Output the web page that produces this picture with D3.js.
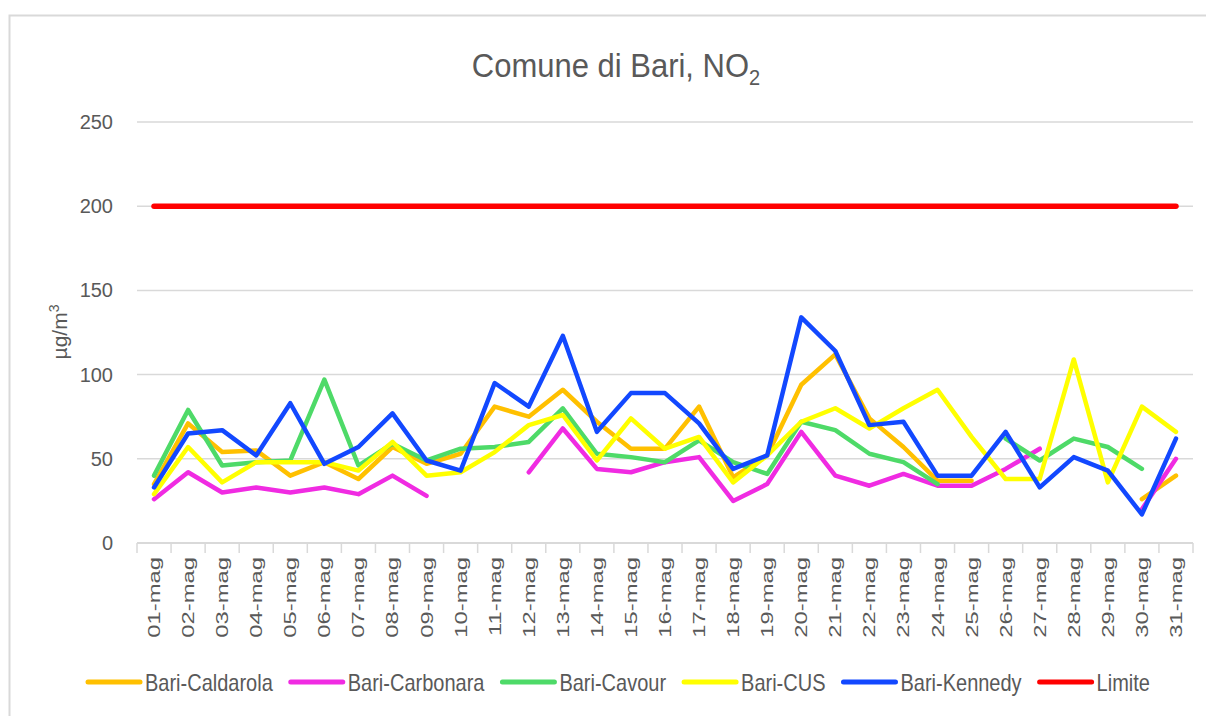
<!DOCTYPE html>
<html>
<head>
<meta charset="utf-8">
<script src="https://cdn.jsdelivr.net/npm/d3@7"></script>
<style>
  body { margin: 0; background: #fff; }
  text { font-family: "Liberation Sans", Arial, sans-serif; fill: #595959; }
</style>
</head>
<body>
<div id="chart"></div>
<script>
// DATA
const days = ["01-mag","02-mag","03-mag","04-mag","05-mag","06-mag","07-mag","08-mag","09-mag","10-mag",
  "11-mag","12-mag","13-mag","14-mag","15-mag","16-mag","17-mag","18-mag","19-mag","20-mag",
  "21-mag","22-mag","23-mag","24-mag","25-mag","26-mag","27-mag","28-mag","29-mag","30-mag","31-mag"]

const caldarola = [35,71,54,55,40,48,38,57,47,53,81,75,91,72,56,56,81,39,52,94,112,74,57,37,37,null,null,null,null,26,40]
const carbonara = [26,42,30,33,30,33,29,40,28,null,null,42,68,44,42,48,51,25,35,66,40,34,41,34,34,44,56,null,null,20,50]
const cavour    = [40,79,46,48,49,97,46,59,49,56,57,60,80,53,51,48,61,48,41,72,67,53,48,35,null,62,49,62,57,44,null]
const cus       = [29,57,36,48,48,48,43,60,40,42,54,70,76,49,74,56,63,36,52,72,80,68,80,91,63,38,38,109,36,81,66]
const kennedy   = [33,65,67,52,83,47,57,77,49,43,95,81,123,66,89,89,71,44,52,134,114,70,72,40,40,66,33,51,43,17,62]
const limite    = days.map(() => 200)

const yTicks = [0,50,100,150,200,250]

const seriesNames  = ["Bari-Caldarola","Bari-Carbonara","Bari-Cavour","Bari-CUS","Bari-Kennedy","Limite"]
const seriesValues = [caldarola, carbonara, cavour, cus, kennedy, limite]
const seriesColors = ["#FFC000","#F02BE2","#4EDA68","#FFFF00","#1248FF","#FF0000"]
const seriesWidths = [4.5, 4.5, 4.5, 4.5, 4.5, 5.5]

const W = 1206, H = 716

const svg = d3.select("#chart").append("svg")
  .attr("width", W)
  .attr("height", H)

// chart frame
svg.append("rect")
  .attr("x", 9.5).attr("y", 15.5)
  .attr("width", 1210).attr("height", 710)
  .attr("fill", "none")
  .attr("stroke", "#d9d9d9")
  .attr("stroke-width", 2)

const xScale = d3.scaleBand()
  .domain(days)
  .range([137, 1193])
  .padding(0)

const yScale = d3.scaleLinear()
  .domain([0, 250])
  .range([543, 122])

// grid lines
svg.append("g")
  .selectAll("line")
  .data(yTicks)
  .join("line")
    .attr("x1", 137).attr("x2", 1193)
    .attr("y1", d => yScale(d)).attr("y2", d => yScale(d))
    .attr("stroke", "#d9d9d9")
    .attr("stroke-width", d => d === 0 ? 2 : 1.5)

// y tick labels
svg.append("g")
  .selectAll("text")
  .data(yTicks)
  .join("text")
    .attr("x", 113)
    .attr("y", d => yScale(d) + 7)
    .attr("text-anchor", "end")
    .attr("font-size", 20)
    .text(d => d)

// x tick marks between categories
const bounds = days.map(d => xScale(d)).concat([xScale.range()[1]])
svg.append("g")
  .selectAll("line")
  .data(bounds)
  .join("line")
    .attr("x1", d => d).attr("x2", d => d)
    .attr("y1", 543).attr("y2", 553)
    .attr("stroke", "#d9d9d9")
    .attr("stroke-width", 1.5)

// x labels
svg.append("g")
  .selectAll("text")
  .data(days)
  .join("text")
    .attr("transform", d => `translate(${xScale(d) + xScale.bandwidth()/2 + 6},557) rotate(-90) scale(1.4,1)`)
    .attr("text-anchor", "end")
    .attr("font-size", 17)
    .text(d => d)

// lines
const line = d3.line()
  .defined(d => d.v !== null)
  .x(d => xScale(d.day) + xScale.bandwidth()/2)
  .y(d => yScale(d.v))

svg.append("g")
  .selectAll("path")
  .data(seriesNames.map((n, i) => ({ name: n, color: seriesColors[i], w: seriesWidths[i],
      pts: days.map((day, j) => ({ day: day, v: seriesValues[i][j] })) })))
  .join("path")
    .attr("d", d => line(d.pts))
    .attr("fill", "none")
    .attr("stroke", d => d.color)
    .attr("stroke-width", d => d.w)
    .attr("stroke-linejoin", "round")
    .attr("stroke-linecap", "round")

// title
const title = svg.append("text")
  .attr("transform", "translate(616,77) scale(1,1.1)")
  .attr("text-anchor", "middle")
  .attr("font-size", 31)
title.append("tspan").text("Comune di Bari, NO")
title.append("tspan").attr("font-size", 20).attr("dy", 7).text("2")

// y axis title
const yTitle = svg.append("text")
  .attr("transform", "translate(67,332) rotate(-90)")
  .attr("text-anchor", "middle")
  .attr("font-size", 21)
yTitle.append("tspan").text("\u00b5g/m")
yTitle.append("tspan").attr("font-size", 14).attr("dy", -8).text("3")

// legend
const legend = svg.append("g")
let cursor = 88
seriesNames.forEach((n, i) => {
  legend.append("line")
    .attr("x1", cursor).attr("x2", cursor + 52)
    .attr("y1", 682).attr("y2", 682)
    .attr("stroke", seriesColors[i])
    .attr("stroke-width", 5)
    .attr("stroke-linecap", "round")
  const t = legend.append("text")
    .attr("transform", `translate(${cursor + 57},691) scale(1,1.2)`)
    .attr("font-size", 20)
    .text(n)
  cursor += 57 + t.node().getComputedTextLength() + 18
})
</script>
</body>
</html>
